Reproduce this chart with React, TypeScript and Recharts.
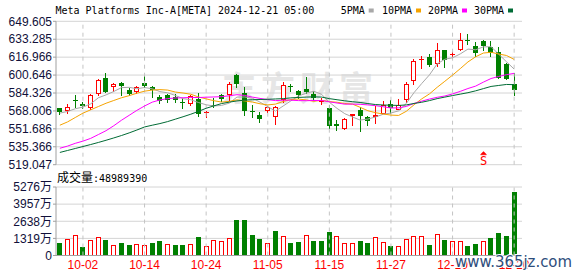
import React from 'react';
import {
  ComposedChart,
  Bar,
  Line,
  XAxis,
  YAxis,
  CartesianGrid,
  ReferenceLine,
  ReferenceDot,
} from 'recharts';

const DATES = [
  '09-27', '09-30', '10-01', '10-02', '10-03', '10-04', '10-07', '10-08', '10-09', '10-10',
  '10-11', '10-14', '10-15', '10-16', '10-17', '10-18', '10-21', '10-22', '10-23', '10-24',
  '10-25', '10-28', '10-29', '10-30', '10-31', '11-01', '11-04', '11-05', '11-06', '11-07',
  '11-08', '11-11', '11-12', '11-13', '11-14', '11-15', '11-18', '11-19', '11-20', '11-21',
  '11-22', '11-25', '11-26', '11-27', '11-29', '12-02', '12-03', '12-04', '12-05', '12-06',
  '12-09', '12-10', '12-11', '12-12', '12-13', '12-16', '12-17', '12-18', '12-19', '12-20',
];

const OPEN = [
  570.4, 568.0, 578.0, 574.7, 570.4, 583.7, 597.9, 589.8, 593.7, 587.3,
  585.5, 593.4, 590.1, 581.0, 582.8, 580.7, 576.5, 574.1, 579.2, 566.8,
  573.1, 582.5, 582.5, 600.9, 584.0, 567.7, 564.1, 568.0, 562.6, 577.7,
  590.7, 586.4, 588.3, 583.1, 576.8, 571.0, 556.5, 552.0, 563.2, 568.9,
  562.9, 562.6, 565.6, 574.7, 569.2, 578.0, 595.2, 614.2, 617.0, 610.3,
  623.3, 618.5, 623.9, 632.4, 626.9, 632.1, 626.0, 621.5, 610.9, 592.8,
];
const HIGH = [
  571.0, 574.7, 582.5, 576.2, 583.1, 596.7, 602.8, 593.7, 594.6, 589.2,
  590.4, 600.3, 591.0, 582.5, 583.7, 583.7, 580.1, 582.8, 584.3, 567.7,
  580.1, 583.7, 594.0, 601.2, 589.8, 573.5, 567.4, 572.2, 572.2, 594.6,
  592.5, 586.7, 599.1, 586.1, 580.1, 573.5, 559.5, 561.4, 565.6, 571.6,
  563.8, 572.5, 577.1, 577.7, 578.6, 594.6, 614.9, 617.9, 620.0, 630.0,
  623.9, 623.0, 639.0, 638.4, 630.9, 632.7, 632.1, 626.0, 611.5, 602.8,
];
const LOW = [
  564.4, 565.0, 570.4, 569.8, 569.2, 581.3, 584.3, 585.5, 581.3, 581.6,
  583.7, 589.2, 580.1, 574.1, 575.3, 575.0, 569.8, 572.3, 562.6, 561.4,
  571.0, 576.5, 577.1, 589.2, 563.2, 562.0, 557.4, 566.5, 555.0, 575.6,
  585.5, 578.6, 583.1, 577.1, 573.5, 551.4, 549.9, 550.5, 554.4, 548.9,
  554.4, 555.9, 565.0, 565.0, 568.6, 575.6, 591.3, 605.8, 607.9, 608.2,
  606.7, 614.9, 622.4, 628.4, 617.3, 622.4, 617.3, 596.7, 595.8, 581.6,
];
const CLOSE = [
  567.4, 571.9, 577.1, 572.9, 582.5, 595.8, 584.9, 592.5, 590.4, 583.7,
  589.5, 590.4, 587.0, 577.4, 578.0, 577.7, 575.9, 581.9, 565.0, 567.4,
  572.2, 578.6, 592.5, 592.2, 568.0, 566.8, 560.5, 571.9, 571.6, 591.6,
  590.1, 582.8, 584.9, 580.1, 577.4, 554.4, 554.6, 561.1, 565.0, 563.2,
  558.9, 564.4, 573.5, 570.4, 573.5, 592.8, 613.3, 614.9, 609.7, 623.3,
  614.2, 620.0, 632.4, 631.5, 620.6, 626.9, 620.9, 598.2, 597.3, 587.3,
];

const MA5 = [
  566.0, 567.5, 570.0, 571.5, 574.4, 580.0, 582.6, 585.7, 589.2, 589.5,
  588.2, 589.3, 588.2, 585.6, 584.5, 582.1, 579.2, 578.2, 575.7, 573.6,
  572.5, 573.0, 575.1, 580.6, 580.7, 579.6, 576.0, 571.9, 567.8, 572.5,
  577.1, 581.6, 584.2, 585.9, 583.1, 575.9, 570.3, 565.5, 562.5, 559.7,
  560.6, 562.5, 565.0, 566.1, 568.1, 574.9, 584.7, 593.0, 600.8, 610.8,
  615.1, 616.4, 619.9, 624.3, 623.7, 626.3, 626.5, 619.6, 612.8, 606.1,
];
const MA10 = [
  555.0, 558.0, 562.0, 566.0, 569.0, 572.0, 575.0, 577.5, 580.0, 581.9,
  584.1, 586.0, 587.0, 587.4, 587.0, 585.2, 584.3, 583.2, 580.7, 579.0,
  577.3, 576.1, 576.7, 578.1, 577.1, 576.1, 574.5, 573.5, 574.2, 576.6,
  578.4, 578.8, 578.0, 576.8, 577.7, 576.5, 575.9, 574.8, 574.2, 571.3,
  568.2, 566.4, 565.2, 564.2, 563.9, 567.7, 573.6, 579.0, 583.5, 589.5,
  595.0, 600.6, 606.5, 612.6, 617.3, 620.7, 621.4, 619.8, 618.5, 614.9,
];
const MA20 = [
  534.0, 536.0, 538.5, 540.5, 543.0, 546.5, 550.0, 554.5, 559.5, 564.0,
  568.5, 572.5, 576.0, 578.0, 579.2, 579.8, 580.0, 580.3, 580.2, 580.5,
  580.7, 581.0, 581.8, 582.8, 582.1, 580.6, 579.4, 578.3, 577.4, 577.8,
  577.8, 577.4, 577.3, 577.5, 577.5, 576.3, 575.2, 574.2, 574.2, 574.0,
  573.5, 572.8, 571.8, 570.7, 570.8, 572.1, 574.8, 576.9, 578.8, 580.4,
  581.6, 583.5, 585.8, 588.4, 590.6, 594.2, 597.5, 599.4, 601.0, 602.2,
];
const MA30 = [
  530.2, 532.0, 533.8, 535.6, 537.4, 539.3, 541.3, 543.4, 545.6, 548.0,
  550.6, 553.4, 555.0, 556.5, 558.3, 560.5, 562.7, 565.0, 567.6, 570.4,
  572.6, 574.7, 576.0, 577.1, 577.8, 578.2, 578.4, 578.6, 578.9, 579.2,
  579.9, 580.3, 580.6, 580.8, 580.6, 579.2, 578.2, 577.2, 576.4, 575.7,
  574.7, 573.8, 573.4, 573.2, 573.0, 573.5, 574.8, 575.9, 577.4, 579.2,
  580.6, 582.0, 583.3, 584.6, 586.3, 588.3, 590.3, 591.2, 592.1, 591.9,
];

// volume in 万 (10k shares)
const VOLUME = [
  948, 1257, 1565, 666, 1180, 1411, 1180, 794, 948, 794,
  871, 794, 948, 1103, 871, 794, 794, 871, 1437, 717,
  1180, 1103, 1334, 2722, 2722, 1565, 1257, 948, 1874, 1488,
  948, 1025, 1617, 1103, 1103, 1796, 1488, 948, 948, 1103,
  948, 1411, 1025, 717, 717, 1257, 1488, 1488, 794, 1694,
  1180, 1103, 1103, 717, 871, 1103, 1334, 1719, 1488, 4899,
];

const DATE_LABELS = ['10-02', '10-14', '10-24', '11-05', '11-15', '11-27', '12-10', '12-20'];
const PRICE_TICKS = [519.047, 535.366, 551.686, 568.006, 584.326, 600.646, 616.966, 633.285, 649.605];
const VOL_TICKS = [0, 1319, 2638, 3957, 5276];
const LAST_VOLUME = 48989390;
const TITLE = 'Meta Platforms Inc-A[META] 2024-12-21 05:00';
const SIGNAL_DATE = '12-16';

const MA_SERIES = [
  { key: 'ma5', name: '5PMA', color: '#a8a8a8' },
  { key: 'ma10', name: '10PMA', color: '#f5a300' },
  { key: 'ma20', name: '20PMA', color: '#ff00ff' },
  { key: 'ma30', name: '30PMA', color: '#006b35' },
];

const RED = '#ff0000';
const GREEN = '#008000';
const FRAME = '#a0a0a0';
const GRID = '#d4d4d4';
const AXIS_TEXT = '#10103a';
const MONO = 'DejaVu Sans Mono, Liberation Mono, monospace';

const data = DATES.map((d, i) => ({
  date: d,
  range: [LOW[i], HIGH[i]],
  open: OPEN[i],
  high: HIGH[i],
  low: LOW[i],
  close: CLOSE[i],
  ma5: MA5[i],
  ma10: MA10[i],
  ma20: MA20[i],
  ma30: MA30[i],
  vol: VOLUME[i],
  volUp: i === 0 ? CLOSE[0] >= OPEN[0] : CLOSE[i] >= CLOSE[i - 1],
}));

function Candle(props: any) {
  const { x, y, width, height, payload } = props;
  if (x == null || y == null || !payload) return null;
  const { open, close, high, low } = payload;
  const span = high - low;
  const py = (v: number) => (span > 0 ? y + ((high - v) / span) * height : y);
  const cx = Math.floor(x + width / 2) + 0.5;
  const up = close >= open;
  const color = up ? RED : GREEN;
  const top = Math.round(py(Math.max(open, close)));
  const bot = Math.round(py(Math.min(open, close)));
  const hi = Math.round(py(high));
  const lo = Math.round(py(low));
  const bodyH = bot - top;
  if (bodyH < 2) {
    return (
      <g>
        <line x1={cx} x2={cx} y1={hi} y2={lo} stroke={color} strokeWidth={1} />
        <line x1={cx - 2.5} x2={cx + 2.5} y1={top + 0.5} y2={top + 0.5} stroke={color} strokeWidth={1} />
      </g>
    );
  }
  if (up) {
    return (
      <g>
        <line x1={cx} x2={cx} y1={hi} y2={top} stroke={color} strokeWidth={1} />
        <line x1={cx} x2={cx} y1={bot} y2={lo} stroke={color} strokeWidth={1} />
        <rect x={cx - 2} y={top + 0.5} width={4} height={bodyH - 1} fill="#ffffff" stroke={color} strokeWidth={1} />
      </g>
    );
  }
  return (
    <g>
      <line x1={cx} x2={cx} y1={hi} y2={lo} stroke={color} strokeWidth={1} />
      <rect x={cx - 2.5} y={top} width={5} height={bodyH} fill={color} />
    </g>
  );
}

function VolBar(props: any) {
  const { x, y, width, height, payload } = props;
  if (x == null || y == null || !payload) return null;
  const cx = Math.floor(x + width / 2) + 0.5;
  const top = Math.round(y);
  const bot = Math.round(y + height);
  if (payload.volUp) {
    return (
      <rect x={cx - 2} y={top + 0.5} width={4} height={Math.max(bot - top - 1, 0)} fill="#ffffff" stroke={RED} strokeWidth={1} />
    );
  }
  return <rect x={cx - 2.5} y={top} width={5} height={bot - top} fill={GREEN} />;
}

function SignalMark(props: any) {
  const { cx, cy } = props;
  if (cx == null || cy == null) return null;
  const x = Math.floor(cx) + 0.5;
  return (
    <g>
      <path d={`M${x - 3},${cy - 4} L${x},${cy - 7} L${x + 3},${cy - 4} Z`} fill={RED} />
      <line x1={x - 3} x2={x + 3} y1={cy - 3.5} y2={cy - 3.5} stroke={RED} />
      <text x={x} y={cy + 7} textAnchor="middle" fontSize={12} fontFamily={MONO} fill={RED}>
        S
      </text>
    </g>
  );
}

const tickFont = { fontSize: 12, fontFamily: 'Liberation Sans, Noto Sans CJK SC, sans-serif', fill: AXIS_TEXT };

export default function App() {
  return (
    <div style={{ position: 'absolute', left: 0, top: 0, width: 578, height: 276, background: '#ffffff', overflow: 'hidden' }}>
      {/* watermark underlay */}
      <svg width={578} height={276} style={{ position: 'absolute', left: 0, top: 0 }}>
        <text x={222} y={101} fontSize={34} fontFamily="Noto Sans CJK SC, sans-serif" fontWeight={700} fill="#e6e6e6" letterSpacing={5}>
          东方财富
        </text>
      </svg>

      <div style={{ position: 'absolute', left: 0, top: 0 }}>
        <ComposedChart width={578} height={180} data={data} margin={{ top: 21.3, right: 56, bottom: 15.3, left: 0 }}>
          <CartesianGrid vertical={false} stroke={GRID} />
          <XAxis dataKey="date" padding={{ left: 0, right: 4 }} height={0} tick={false} tickLine={false} axisLine={{ stroke: FRAME }} />
          <XAxis xAxisId="top" orientation="top" dataKey="date" padding={{ left: 0, right: 4 }} height={0} tick={false} tickLine={false} axisLine={{ stroke: FRAME }} />
          <YAxis
            type="number"
            domain={[PRICE_TICKS[0], PRICE_TICKS[PRICE_TICKS.length - 1]]}
            ticks={PRICE_TICKS}
            interval={0}
            allowDataOverflow
            width={56}
            tickSize={3}
            tickMargin={1}
            tick={tickFont}
            tickFormatter={(v: number) => v.toFixed(3)}
            axisLine={{ stroke: FRAME }}
            tickLine={{ stroke: FRAME }}
          />
          <YAxis yAxisId="right" orientation="right" type="number" domain={[0, 1]} width={0} tick={false} tickLine={false} axisLine={{ stroke: FRAME }} />
          {DATE_LABELS.map((d) => (
            <ReferenceLine key={d} x={d} stroke="#c4c4c4" strokeDasharray="4 4" />
          ))}
          <Bar dataKey="range" shape={Candle} isAnimationActive={false} />
          {MA_SERIES.map((s) => (
            <Line
              key={s.key}
              type="linear"
              dataKey={s.key}
              stroke={s.color}
              strokeWidth={1}
              dot={false}
              activeDot={false}
              isAnimationActive={false}
            />
          ))}
          <ReferenceDot x={SIGNAL_DATE} y={525} r={0} shape={SignalMark} />
        </ComposedChart>
      </div>

      <div style={{ position: 'absolute', left: 0, top: 165 }}>
        <ComposedChart width={578} height={111} data={data} margin={{ top: 22, right: 56, bottom: 0, left: 0 }}>
          <CartesianGrid vertical={false} stroke={GRID} />
          <XAxis
            dataKey="date"
            padding={{ left: 0, right: 4 }}
            height={20.5}
            ticks={DATE_LABELS}
            interval={0}
            tickSize={0}
            tickMargin={5}
            tick={{ fontSize: 12, fontFamily: 'Liberation Sans, sans-serif', fill: RED }}
            axisLine={{ stroke: FRAME }}
          />
          <XAxis xAxisId="top" orientation="top" dataKey="date" padding={{ left: 0, right: 4 }} height={0} tick={false} tickLine={false} axisLine={{ stroke: FRAME }} />
          <YAxis
            type="number"
            domain={[0, VOL_TICKS[VOL_TICKS.length - 1]]}
            ticks={VOL_TICKS}
            interval={0}
            allowDataOverflow
            width={56}
            tickSize={3}
            tickMargin={1}
            tick={tickFont}
            tickFormatter={(v: number) => (v === 0 ? '0' : `${v}万`)}
            axisLine={{ stroke: FRAME }}
            tickLine={{ stroke: FRAME }}
          />
          <YAxis yAxisId="right" orientation="right" type="number" domain={[0, 1]} width={0} tick={false} tickLine={false} axisLine={{ stroke: FRAME }} />
          {DATE_LABELS.map((d) => (
            <ReferenceLine key={d} x={d} stroke="#c4c4c4" strokeDasharray="4 4" />
          ))}
          <Bar dataKey="vol" shape={VolBar} isAnimationActive={false} />
        </ComposedChart>
      </div>

      {/* text overlay */}
      <svg width={578} height={276} style={{ position: 'absolute', left: 0, top: 0, pointerEvents: 'none' }}>
        <text x={55.5} y={13.5} fontSize={10} fontFamily={MONO} fill="#000000">
          {TITLE}
        </text>
        {MA_SERIES.map((s, i) => {
          const xs = [340.7, 382, 428, 474][i];
          const w = s.name.length * 6;
          return (
            <g key={s.key}>
              <text x={xs} y={13.5} fontSize={10} fontFamily={MONO} fill="#000000">
                {s.name}
              </text>
              <rect x={xs + w + 4} y={8.5} width={5} height={4} fill={s.color} />
            </g>
          );
        })}
        <text x={57} y={182} fill="#000000">
          <tspan fontSize={12} fontFamily="Noto Sans CJK SC, sans-serif">成交量</tspan>
          <tspan fontSize={10} fontFamily={MONO}>{`:${LAST_VOLUME}`}</tspan>
        </text>
        <text
          x={455}
          y={267}
          fontSize={16}
          fontFamily="DejaVu Sans, sans-serif"
          fill="#2e4d7b"
          stroke="#ffffff"
          strokeWidth={2}
          paintOrder="stroke"
          textLength={117}
          lengthAdjust="spacingAndGlyphs"
        >
          www.365jz.com
        </text>
      </svg>
    </div>
  );
}
